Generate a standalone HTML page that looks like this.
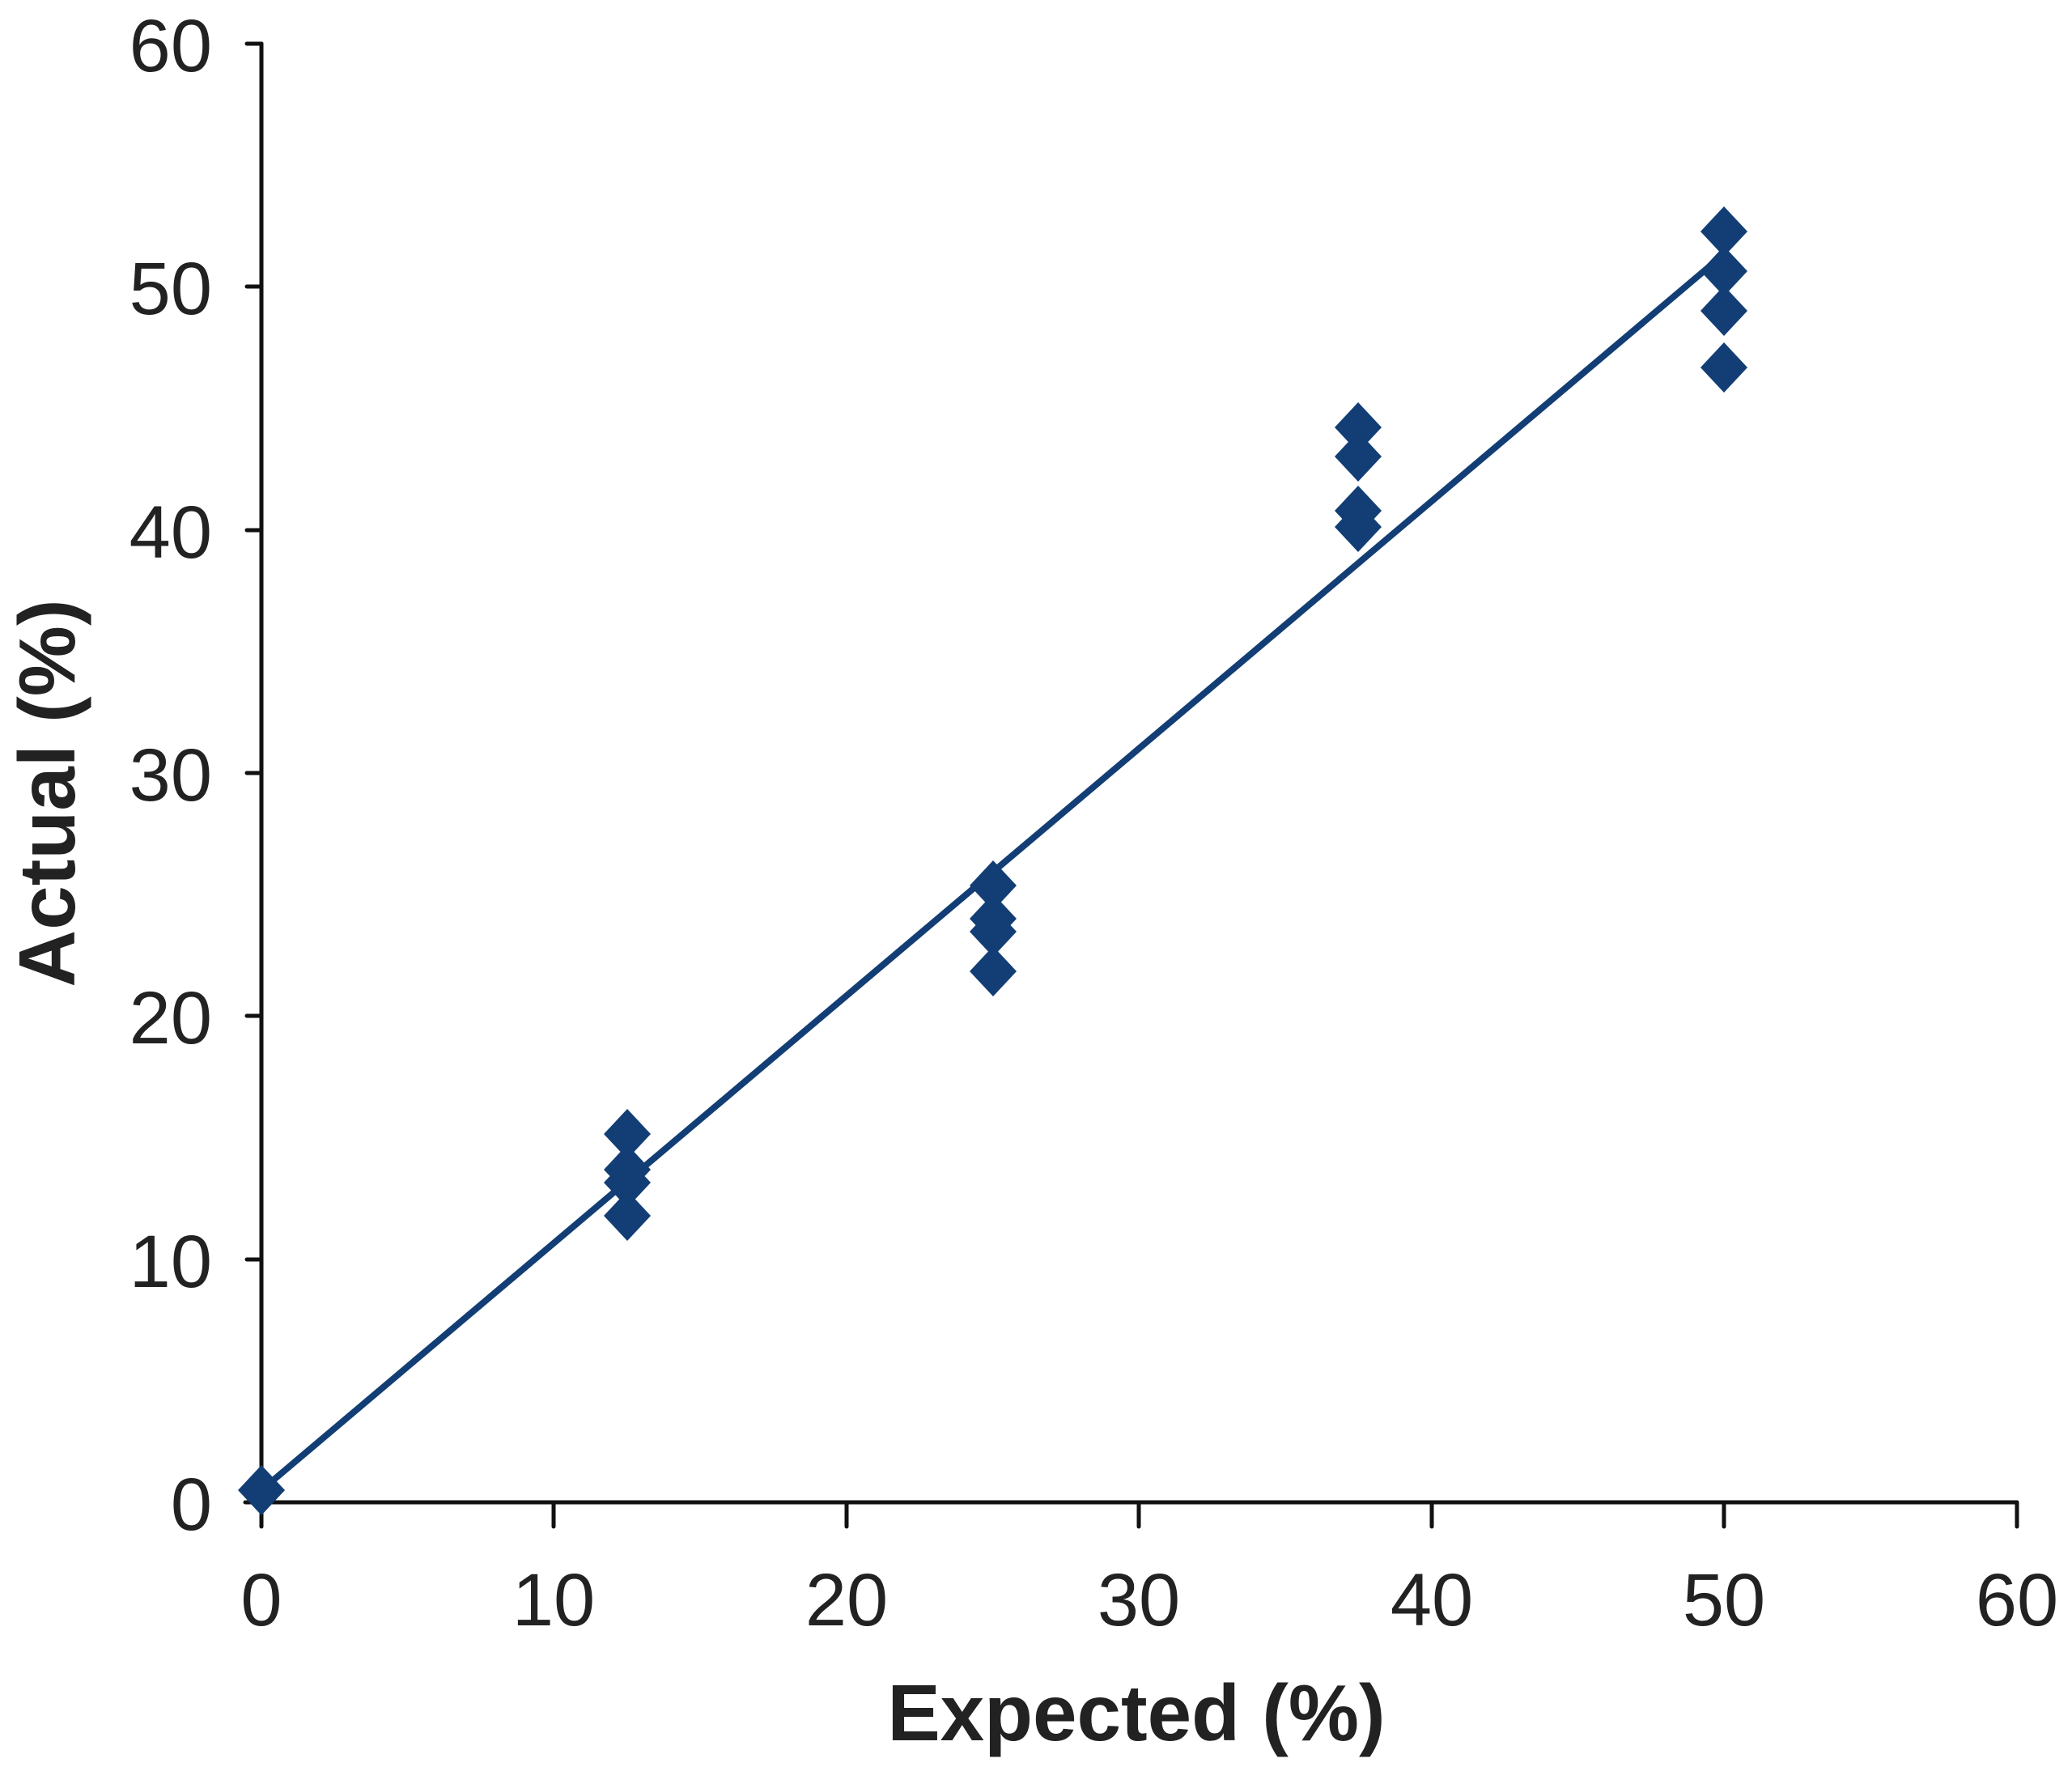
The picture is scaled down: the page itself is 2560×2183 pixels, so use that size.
<!DOCTYPE html>
<html><head><style>html,body{margin:0;padding:0;background:#fff}</style></head>
<body>
<svg width="2560" height="2178" viewBox="0 0 2560 2178" xmlns="http://www.w3.org/2000/svg">
<g stroke="#111" stroke-width="5" stroke-linecap="round">
<line x1="323" y1="54" x2="323" y2="1856"/>
<line x1="303" y1="1856" x2="2492" y2="1856"/>
<line x1="305" y1="54" x2="323" y2="54"/>
<line x1="305" y1="354" x2="323" y2="354"/>
<line x1="305" y1="655" x2="323" y2="655"/>
<line x1="305" y1="955" x2="323" y2="955"/>
<line x1="305" y1="1255" x2="323" y2="1255"/>
<line x1="305" y1="1556" x2="323" y2="1556"/>
<line x1="323" y1="1856" x2="323" y2="1886"/>
<line x1="684" y1="1856" x2="684" y2="1886"/>
<line x1="1046" y1="1856" x2="1046" y2="1886"/>
<line x1="1407" y1="1856" x2="1407" y2="1886"/>
<line x1="1769" y1="1856" x2="1769" y2="1886"/>
<line x1="2130" y1="1856" x2="2130" y2="1886"/>
<line x1="2492" y1="1856" x2="2492" y2="1886"/>
</g>
<g font-family="Liberation Sans, sans-serif" font-size="92" fill="#222" text-anchor="end">
<text x="262" y="88">60</text>
<text x="262" y="388">50</text>
<text x="262" y="689">40</text>
<text x="262" y="989">30</text>
<text x="262" y="1289">20</text>
<text x="262" y="1590">10</text>
<text x="262" y="1890">0</text>
</g>
<g font-family="Liberation Sans, sans-serif" font-size="92" fill="#222" text-anchor="middle">
<text x="323" y="2008">0</text>
<text x="684" y="2008">10</text>
<text x="1046" y="2008">20</text>
<text x="1407" y="2008">30</text>
<text x="1769" y="2008">40</text>
<text x="2130" y="2008">50</text>
<text x="2492" y="2008">60</text>
</g>
<text x="1404" y="2150" font-family="Liberation Sans, sans-serif" font-size="98" font-weight="bold" fill="#222" text-anchor="middle">Expected (%)</text>
<text transform="translate(92,980) rotate(-90)" font-family="Liberation Sans, sans-serif" font-size="98" font-weight="bold" fill="#222" text-anchor="middle">Actual (%)</text>
<line x1="323" y1="1841" x2="2130" y2="314" stroke="#123e75" stroke-width="8"/>
<g fill="#123e75">
<path d="M323,1810 l29,31 l-29,31 l-29,-31z"/>
<path d="M775,1370 l29,31 l-29,31 l-29,-31z"/>
<path d="M775,1414 l29,31 l-29,31 l-29,-31z"/>
<path d="M775,1430 l29,31 l-29,31 l-29,-31z"/>
<path d="M775,1471 l29,31 l-29,31 l-29,-31z"/>
<path d="M1227,1063 l29,31 l-29,31 l-29,-31z"/>
<path d="M1227,1104 l29,31 l-29,31 l-29,-31z"/>
<path d="M1227,1120 l29,31 l-29,31 l-29,-31z"/>
<path d="M1227,1169 l29,31 l-29,31 l-29,-31z"/>
<path d="M1678,497 l29,31 l-29,31 l-29,-31z"/>
<path d="M1678,533 l29,31 l-29,31 l-29,-31z"/>
<path d="M1678,600 l29,31 l-29,31 l-29,-31z"/>
<path d="M1678,620 l29,31 l-29,31 l-29,-31z"/>
<path d="M2130,255 l29,31 l-29,31 l-29,-31z"/>
<path d="M2130,304 l29,31 l-29,31 l-29,-31z"/>
<path d="M2130,353 l29,31 l-29,31 l-29,-31z"/>
<path d="M2130,423 l29,31 l-29,31 l-29,-31z"/>
</g>
</svg>
</body></html>
